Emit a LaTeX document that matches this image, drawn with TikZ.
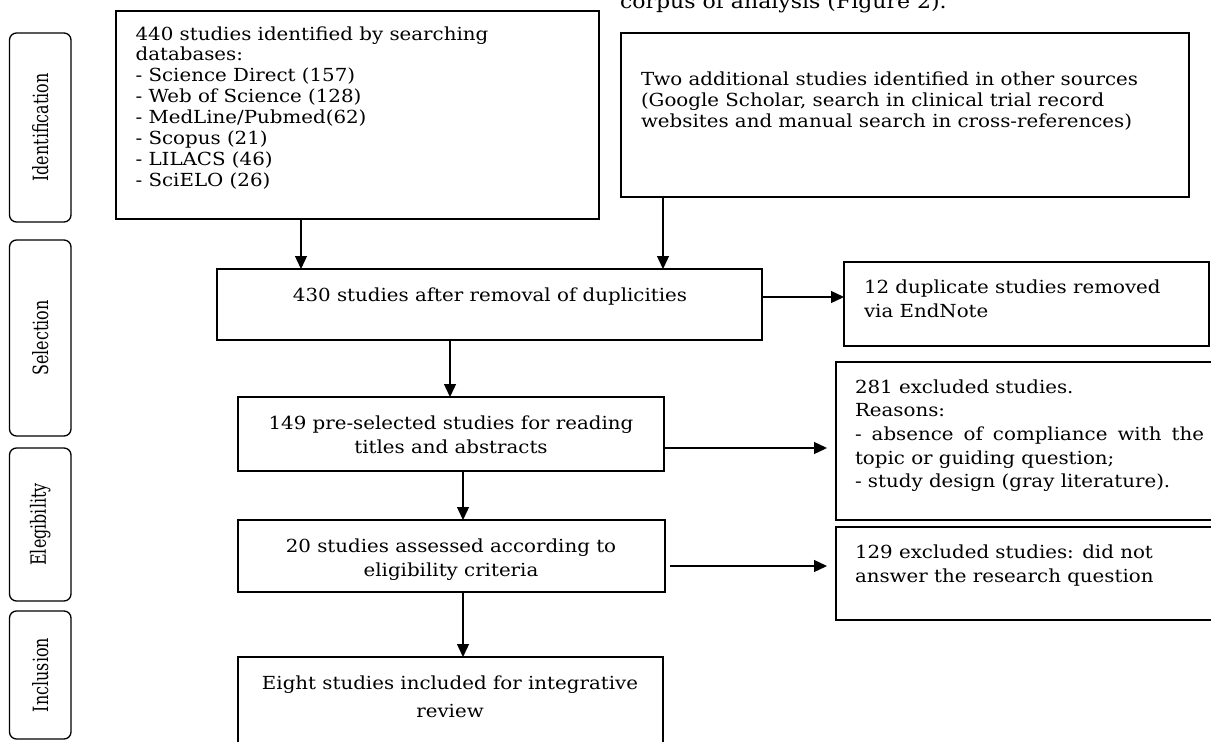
\documentclass[tikz,border=0pt]{standalone}
\usepackage{fontspec}
\setmainfont{DejaVu Serif}[FakeStretch=1.1]
\newfontfamily\labfont{DejaVu Serif}[FakeStretch=0.76]
\usetikzlibrary{arrows.meta}
\tikzset{
  flowbox/.style={draw=black, line width=1.3pt, inner sep=0pt, outer sep=0pt, anchor=north west},
  phase/.style={draw=black, line width=1.3pt, rounded corners=7pt, inner sep=0pt, outer sep=0pt,
    rotate=90, font=\labfont\fontsize{21}{24}\selectfont},
  txt/.style={inner sep=0pt, outer sep=0pt},
  arr/.style={line width=1.3pt, -{Triangle[length=13pt,width=12pt]}},
}
\newcommand{\fl}{\rule{0pt}{15pt}}
\begin{document}
\begin{tikzpicture}[x=1pt,y=-1pt]
\clip (0,0) rectangle (1211,742);
\fill[white] (0,0) rectangle (1211,742);

% stray caption text cut at top
\node[txt, anchor=base west, font=\fontsize{20}{24}\selectfont] (corp) at (620,8) {corpus of analysis (Figure 2).};

% phase labels
\node[phase, minimum width=189pt, minimum height=61.5pt] (lid) at (40.25,127.5) {Identification};
\node[phase, minimum width=196pt, minimum height=61.5pt] (lsel) at (40.25,338) {Selection};
\node[phase, minimum width=153pt, minimum height=61.5pt] (lel) at (40.25,524.5) {Elegibility};
\node[phase, minimum width=128pt, minimum height=61.5pt] (linc) at (40.25,675) {Inclusion};

% boxes
\node[flowbox, minimum width=483pt, minimum height=208pt] (b1) at (116,11) {};
\node[flowbox, minimum width=568pt, minimum height=164pt] (b2) at (621,33) {};
\node[flowbox, minimum width=545pt, minimum height=71pt] (b430) at (217,269) {};
\node[flowbox, minimum width=365pt, minimum height=84pt] (b12) at (844,262) {};
\node[flowbox, minimum width=426pt, minimum height=74pt] (b149) at (238,397) {};
\node[flowbox, minimum width=390pt, minimum height=158pt] (b281) at (836,362) {};
\node[flowbox, minimum width=427pt, minimum height=72pt] (b20) at (238,520) {};
\node[flowbox, minimum width=390pt, minimum height=93pt] (b129) at (836,527) {};
\node[flowbox, minimum width=425pt, minimum height=100pt] (b8) at (238,657) {};

% texts
\node[txt, anchor=north west, align=left, font=\fontsize{18}{20.9}\selectfont] (t1) at (135.6,25)
  {\fl 440 studies identified by searching\\databases:\\- Science Direct (157)\\- Web of Science (128)\\- MedLine/Pubmed(62)\\- Scopus (21)\\- LILACS (46)\\- SciELO (26)};
\node[txt, anchor=north west, align=left, font=\fontsize{18}{21}\selectfont] (t2) at (641,70)
  {\fl Two additional studies identified in other sources\\(Google Scholar, search in clinical trial record\\websites and manual search in cross-references)};
\node[txt, anchor=north, font=\fontsize{18}{21}\selectfont] (t430) at (490,286)
  {\fl 430 studies after removal of duplicities};
\node[txt, anchor=north west, align=left, font=\fontsize{18}{24}\selectfont] (t12) at (864,278)
  {\fl 12 duplicate studies removed\\via EndNote};
\node[txt, anchor=north, align=center, font=\fontsize{18}{24}\selectfont] (t149) at (451,414)
  {\fl 149 pre-selected studies for reading\\titles and abstracts};
\node[txt, anchor=north west, align=left, font=\fontsize{18}{23.7}\selectfont] (t281) at (855,378)
  {\fl 281 excluded studies.\\Reasons:\\\makebox[349pt][s]{- absence of compliance with the}\\topic or guiding question;\\- study design (gray literature).};
\node[txt, anchor=north, align=center, font=\fontsize{18}{24}\selectfont] (t20) at (451,537)
  {\fl 20 studies assessed according to\\eligibility criteria};
\node[txt, anchor=north west, align=left, font=\fontsize{18}{24.5}\selectfont] (t129) at (855,543)
  {\fl 129 excluded studies: did not\\answer the research question};
\node[txt, anchor=north, align=center, font=\fontsize{18}{28}\selectfont] (t8) at (450,674)
  {\fl Eight studies included for integrative\\review};

% connectors
\coordinate (p1) at ([xshift=185pt]b1.south west);
\draw[arr] (p1) -- (p1 |- b430.north);
\coordinate (p2) at ([xshift=42pt]b2.south west);
\draw[arr] (p2) -- (p2 |- b430.north);
\coordinate (p3) at ([yshift=-28pt]b430.north east);
\draw[arr] (p3) -- (p3 -| b12.west);
\coordinate (p4) at ([xshift=233pt]b430.south west);
\draw[arr] (p4) -- (p4 |- b149.north);
\coordinate (p5) at ([yshift=-51pt]b149.north east);
\draw[arr, shorten >=9pt] (p5) -- (p5 -| b281.west);
\coordinate (p7) at ([xshift=225pt]b149.south west);
\draw[arr] (p7) -- (p7 |- b20.north);
\coordinate (p6) at ([yshift=-46pt]b20.north east);
\draw[arr, shorten <=5pt, shorten >=9pt] (p6) -- (p6 -| b129.west);
\coordinate (p8) at ([xshift=225pt]b20.south west);
\draw[arr] (p8) -- (p8 |- b8.north);
\end{tikzpicture}
\end{document}
